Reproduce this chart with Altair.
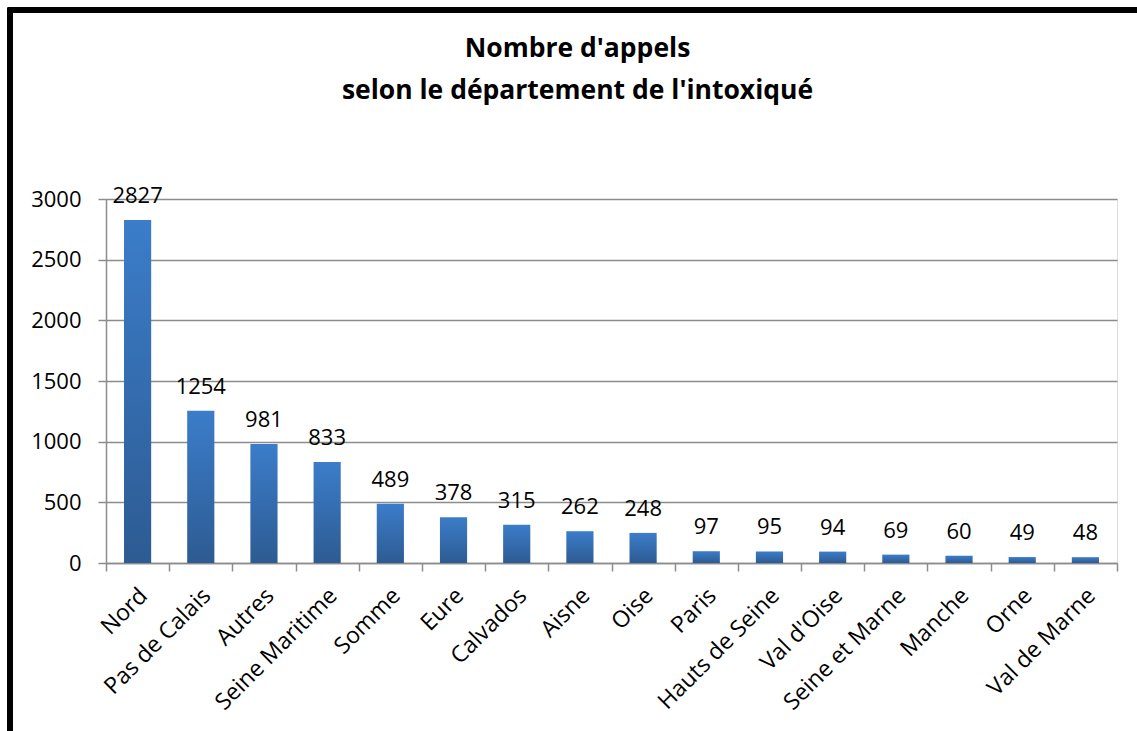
import altair as alt
import pandas as pd

departements = ["Nord", "Pas de Calais", "Autres", "Seine Maritime", "Somme", "Eure",
                "Calvados", "Aisne", "Oise", "Paris", "Hauts de Seine", "Val d'Oise",
                "Seine et Marne", "Manche", "Orne", "Val de Marne"]
appels = [2827, 1254, 981, 833, 489, 378, 315, 262, 248, 97, 95, 94, 69, 60, 49, 48]
title_lines = ["Nombre d'appels", "selon le département de l'intoxiqué"]

df = pd.DataFrame({"dep": departements, "n": appels})
FONT = "Open Sans"

x = alt.X("dep:N", sort=departements, title=None,
          scale=alt.Scale(paddingInner=0, paddingOuter=0),
          axis=alt.Axis(labelAngle=-45, labelAlign="right", labelBaseline="top",
                        labelFontSize=23, labelFont=FONT, labelColor="black",
                        labelPadding=13, labelOffset=-2, tickBand="extent", tickSize=8,
                        tickColor="#8c8c8c", domainColor="#8c8c8c", tickWidth=1.5,
                        domainWidth=1.5, grid=False, labelOverlap=False))
y = alt.Y("n:Q", title=None,
          scale=alt.Scale(domain=[0, 3000], nice=False),
          axis=alt.Axis(values=[0, 500, 1000, 1500, 2000, 2500, 3000], format="d",
                        labelFontSize=22, labelFont=FONT, labelColor="black",
                        labelPadding=17, tickSize=8, tickColor="#8c8c8c",
                        domainColor="#8c8c8c", gridColor="#8c8c8c", gridWidth=1.5,
                        tickWidth=1.5, domainWidth=1.5, grid=True))

grad = alt.Gradient(gradient="linear", x1=0, y1=1, x2=0, y2=0,
                    stops=[alt.GradientStop(color="#2d5b92", offset=0),
                           alt.GradientStop(color="#3b7dca", offset=1)])

bars = alt.Chart(df).mark_bar(color=grad, width=alt.RelativeBandSize(0.43)).encode(x=x, y=y)
labels = alt.Chart(df).mark_text(baseline="alphabetic", dy=-17, fontSize=22,
                                 font=FONT, color="black").encode(
    x=alt.X("dep:N", sort=departements), y="n:Q", text="n:Q")
frame = alt.Chart(df).mark_rect(fill=None, stroke="black", strokeWidth=4.5).encode(
    x=alt.value(-96), x2=alt.value(1060), y=alt.value(-189), y2=alt.value(560))

chart = alt.layer(frame, bars, labels).properties(
    width=1011, height=364,
    padding={"left": 106, "top": 199, "right": 20, "bottom": 168},
    autosize=alt.AutoSizeParams(type="none"),
    title=alt.TitleParams(text=title_lines, anchor="middle", font=FONT, fontSize=26.5,
                          fontWeight="bold", color="black", lineHeight=42,
                          baseline="bottom", offset=-124, dx=-34),
).configure_view(stroke=None).configure(background="white")

chart.save("out.html", embed_options={"renderer": "svg", "actions": False})
